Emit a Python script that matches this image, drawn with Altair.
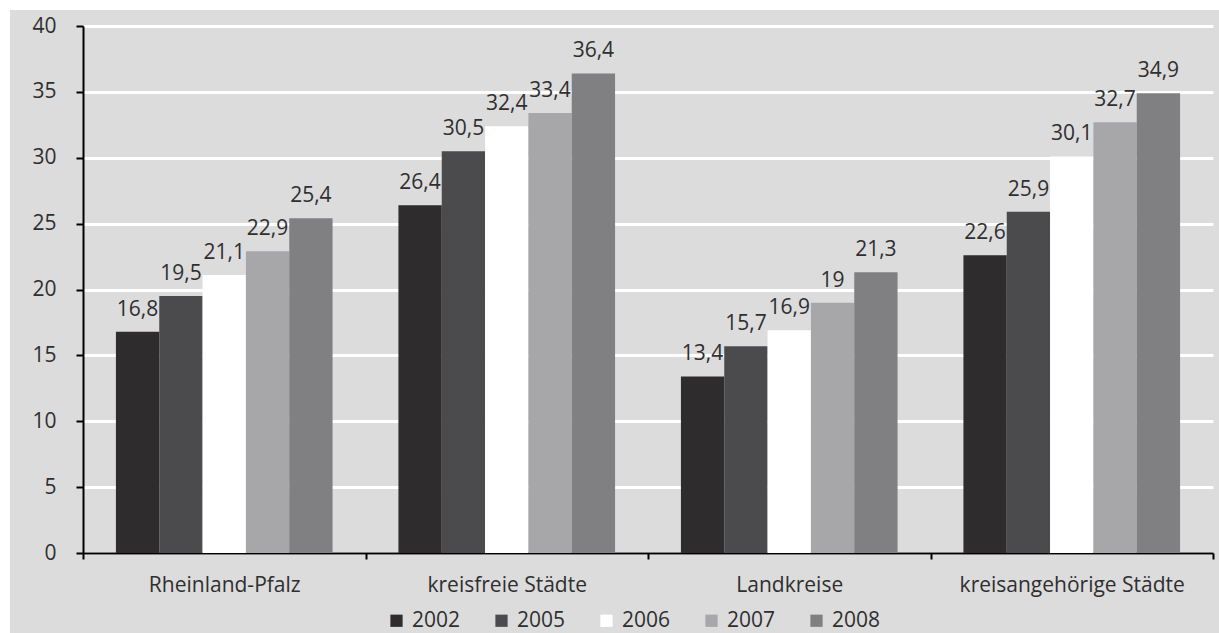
import altair as alt
import pandas as pd

# Regions (x categories) and survey years (grouped bars)
regions = ["Rheinland-Pfalz", "kreisfreie Städte", "Landkreise", "kreisangehörige Städte"]
years = ["2002", "2005", "2006", "2007", "2008"]

# Share per region, one list per year
v2002 = [16.8, 26.4, 13.4, 22.6]
v2005 = [19.5, 30.5, 15.7, 25.9]
v2006 = [21.1, 32.4, 16.9, 30.1]
v2007 = [22.9, 33.4, 19.0, 32.7]
v2008 = [25.4, 36.4, 21.3, 34.9]

year_colors = ["#2e2c2d", "#4b4b4d", "#ffffff", "#a7a7a9", "#808082"]
y_ticks = [0, 5, 10, 15, 20, 25, 30, 35, 40]

BG = "#dcdcdd"
FONT = "Open Sans"
TEXT = "#2f2f2f"
FS = 21


def de_label(v):
    s = f"{v:.1f}".replace(".", ",")
    return s[:-2] if s.endswith(",0") else s


rows = []
for year, vals in zip(years, [v2002, v2005, v2006, v2007, v2008]):
    for region, v in zip(regions, vals):
        rows.append({"region": region, "year": year, "value": v, "label": de_label(v)})
df = pd.DataFrame(rows)

W, H = 1130, 527

x_enc = alt.X(
    "region:N",
    sort=regions,
    scale=alt.Scale(paddingInner=0, paddingOuter=0),
    axis=alt.Axis(
        title=None,
        labelAngle=0,
        labelLimit=0,
        tickBand="extent",
        domainColor="black",
        domainWidth=2,
        tickColor="black",
        tickWidth=2,
        tickSize=6,
        labelFontSize=FS,
        labelColor=TEXT,
        labelPadding=15,
        grid=False,
    ),
)
xoff_enc = alt.XOffset(
    "year:N", sort=years, scale=alt.Scale(paddingInner=0, paddingOuter=0.76)
)
y_enc = alt.Y(
    "value:Q",
    scale=alt.Scale(domain=[0, 40], nice=False),
    axis=alt.Axis(
        title=None,
        values=y_ticks,
        grid=True,
        gridColor="white",
        gridWidth=3,
        domainColor="black",
        domainWidth=2,
        tickColor="black",
        tickWidth=2,
        tickSize=7,
        labelFontSize=FS,
        labelColor=TEXT,
        labelPadding=20,
    ),
)

bars = alt.Chart(df).mark_bar(strokeWidth=0).encode(
    x=x_enc,
    xOffset=xoff_enc,
    y=y_enc,
    color=alt.Color(
        "year:N",
        sort=years,
        scale=alt.Scale(domain=years, range=year_colors),
        legend=alt.Legend(
            title=None,
            orient="none",
            direction="horizontal",
            legendX=303,
            legendY=584,
            symbolType="square",
            symbolSize=150,
            symbolStrokeWidth=0,
            labelFontSize=FS,
            labelColor=TEXT,
            labelOffset=5,
            columnPadding=30,
        ),
    ),
)

labels = alt.Chart(df).mark_text(
    baseline="alphabetic", dy=-16, fontSize=FS, color=TEXT, font=FONT
).encode(x=x_enc, xOffset=xoff_enc, y=y_enc, text="label:N")

# white page margins along the top and left edge
strip = pd.DataFrame({"k": [0]})
top_strip = alt.Chart(strip).mark_rect(color="white").encode(
    x=alt.value(-90), x2=alt.value(W + 20), y=alt.value(-30), y2=alt.value(-16)
)
left_strip = alt.Chart(strip).mark_rect(color="white").encode(
    x=alt.value(-90), x2=alt.value(-73), y=alt.value(-30), y2=alt.value(H + 90)
)

chart = (
    alt.layer(top_strip, left_strip, bars, labels)
    .properties(
        width=W,
        height=H,
        background=BG,
        padding={"left": 83, "top": 26, "right": 6, "bottom": 80},
        autosize=alt.AutoSizeParams(type="none"),
    )
    .configure(font=FONT)
    .configure_view(stroke=None)
)

chart.save("out.html", embed_options={"renderer": "svg", "actions": False})
